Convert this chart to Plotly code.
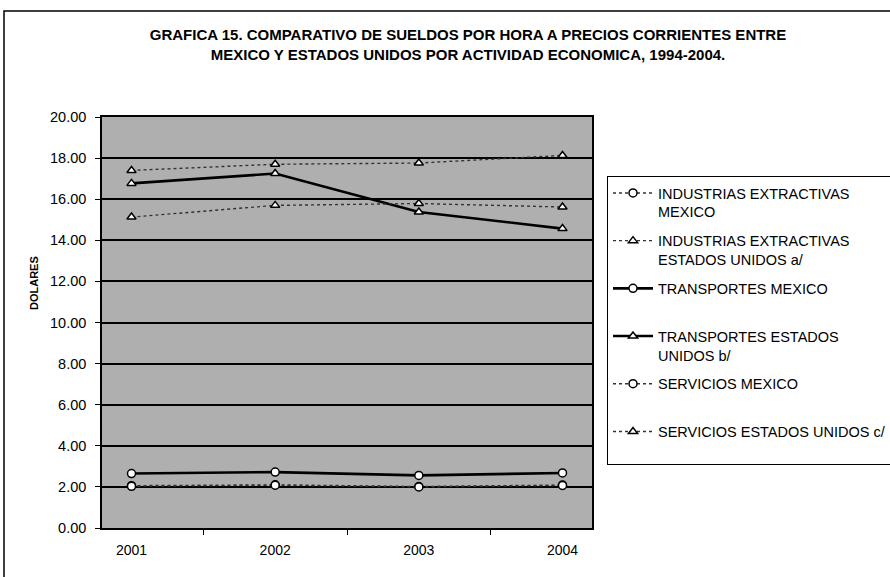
import plotly.graph_objects as go

# Hourly wages (current US dollars) by economic activity
years = ["2001", "2002", "2003", "2004"]

ind_ext_mex = [2.06, 2.10, 2.02, 2.09]
ind_ext_usa = [17.40, 17.70, 17.76, 18.13]
transp_mex = [2.65, 2.72, 2.56, 2.68]
transp_usa = [16.77, 17.25, 15.38, 14.57]
serv_mex = [2.03, 2.08, 2.00, 2.07]
serv_usa = [15.13, 15.70, 15.79, 15.62]

series_names = [
    "INDUSTRIAS EXTRACTIVAS<br>MEXICO",
    "INDUSTRIAS EXTRACTIVAS<br>ESTADOS UNIDOS a/",
    "TRANSPORTES MEXICO<br> ",
    "TRANSPORTES ESTADOS<br>UNIDOS b/",
    "SERVICIOS MEXICO<br> ",
    "SERVICIOS ESTADOS UNIDOS c/<br> ",
]

y_ticks = [0, 2, 4, 6, 8, 10, 12, 14, 16, 18, 20]

FONT = "Liberation Sans, Arial, sans-serif"

series = [
    (series_names[0], ind_ext_mex, "circle", False),
    (series_names[1], ind_ext_usa, "triangle-up", False),
    (series_names[2], transp_mex, "circle", True),
    (series_names[3], transp_usa, "triangle-up", True),
    (series_names[4], serv_mex, "circle", False),
    (series_names[5], serv_usa, "triangle-up", False),
]

fig = go.Figure()
for i, (name, vals, sym, solid) in enumerate(series):
    line = dict(color="black", width=2.6) if solid else dict(color="#333333", width=1.4, dash="dot")
    fig.add_trace(go.Scatter(
        x=years, y=vals, name=name, mode="lines+markers",
        line=line,
        marker=dict(symbol=sym, size=8, color="white",
                    line=dict(color="black", width=1.5)),
        legendgroup=f"g{i}",
    ))

fig.update_layout(
    width=890, height=577,
    margin=dict(l=102, r=298, t=117, b=49),
    paper_bgcolor="white",
    plot_bgcolor="#afafaf",
    font=dict(family=FONT, size=14, color="black"),
    showlegend=True,
    legend=dict(
        xref="container", yref="container",
        x=607 / 890, xanchor="left",
        y=1 - 176 / 577, yanchor="top",
        bgcolor="white", bordercolor="black", borderwidth=1,
        font=dict(family=FONT, size=14.5, color="black"),
        valign="top", itemwidth=40, tracegroupgap=7,
    ),
    title=dict(
        text="GRAFICA 15. COMPARATIVO DE SUELDOS POR HORA A PRECIOS CORRIENTES ENTRE<br>"
             "MEXICO Y ESTADOS UNIDOS POR ACTIVIDAD ECONOMICA, 1994-2004.",
        x=468 / 890, xanchor="center", xref="container",
        y=1 - 40 / 577, yanchor="top", yref="container",
        font=dict(family=FONT, size=15, color="black", weight="bold"),
    ),
)

fig.update_xaxes(
    type="category", showgrid=False,
    showline=True, linecolor="black", linewidth=1.5, mirror=True,
    ticks="outside", tickson="boundaries", ticklen=5, tickcolor="black",
    ticklabelstandoff=8, tickfont=dict(size=14),
)
fig.update_yaxes(
    range=[0, 20], tickvals=y_ticks, tickformat=".2f",
    showgrid=True, gridcolor="black", gridwidth=1.5, zeroline=False,
    showline=True, linecolor="black", linewidth=1.5, mirror=True,
    ticks="outside", ticklen=5, tickcolor="black",
    ticklabelstandoff=6, tickfont=dict(size=14.5),
)

fig.add_annotation(
    text="<b>DOLARES</b>", textangle=-90, showarrow=False,
    xref="paper", yref="paper", x=(26 - 102) / 490, y=(528 - 283) / 411,
    font=dict(family=FONT, size=11, color="black"),
)

# Outer chart frame (left and top edges visible)
fig.add_shape(
    type="rect", xref="paper", yref="paper",
    x0=(4 - 102) / 490, x1=(905 - 102) / 490,
    y0=(528 - 600) / 411, y1=(528 - 11) / 411,
    line=dict(color="black", width=1.5), fillcolor="rgba(0,0,0,0)", layer="below",
)

fig.write_html("out.html")
